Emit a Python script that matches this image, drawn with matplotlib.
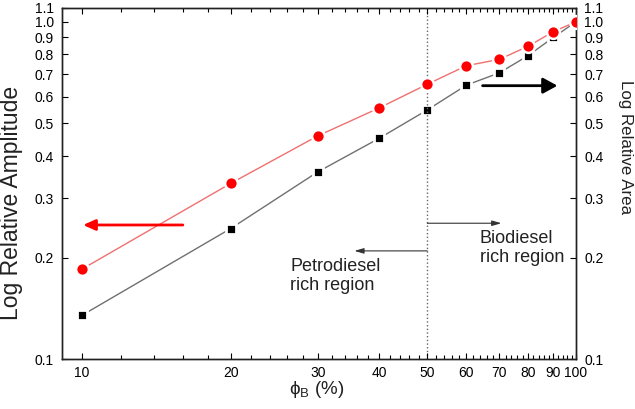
import matplotlib
matplotlib.use("Agg")
import matplotlib.pyplot as plt
from matplotlib.ticker import FixedLocator, NullLocator, NullFormatter

plt.rcParams['font.family'] = ['Liberation Sans', 'DejaVu Sans']

# ---- data ----
phi_b = [10, 20, 30, 40, 50, 60, 70, 80, 90, 100]
rel_amplitude = [0.185, 0.332, 0.459, 0.556, 0.653, 0.741, 0.774, 0.846, 0.935, 1.0]
rel_area = [0.135, 0.244, 0.359, 0.452, 0.548, 0.649, 0.706, 0.794, 0.899, 1.0]

x_major = [10, 20, 30, 40, 50, 60, 70, 80, 90, 100]
x_minor = [v for v in range(12, 100, 2) if v % 10 != 0]
y_ticks = [0.1, 0.2, 0.3, 0.4, 0.5, 0.6, 0.7, 0.8, 0.9, 1.0, 1.1]
y_labels = ['0.1', '0.2', '0.3', '0.4', '0.5', '0.6', '0.7', '0.8', '0.9', '1.0', '1.1']

W, H = 635, 409
fig = plt.figure(figsize=(W / 100, H / 100), dpi=100)
L, R, B, T = 62, 576, 359.3, 7.8
ax = fig.add_axes([L / W, 1 - B / H, (R - L) / W, (B - T) / H])
ax2 = ax.twinx()

for a in (ax, ax2):
    a.set_xscale('log')
    a.set_yscale('log')
    a.set_xlim(9.11, 100)
    a.set_ylim(0.1, 1.1)
    a.yaxis.set_major_locator(FixedLocator(y_ticks))
    a.yaxis.set_minor_locator(NullLocator())
    a.yaxis.set_minor_formatter(NullFormatter())

ax.set_yticklabels(y_labels)
ax2.set_yticklabels(y_labels)

ax.xaxis.set_major_locator(FixedLocator(x_major))
ax.xaxis.set_minor_locator(FixedLocator(x_minor))
ax.xaxis.set_minor_formatter(NullFormatter())
ax.set_xticklabels([str(v) for v in x_major])

ax.tick_params(axis='x', which='major', direction='in', length=4.3, width=0.8,
               top=True, labelsize=10, pad=5.0)
ax.tick_params(axis='x', which='minor', direction='in', length=2.6, width=0.8, top=True)
ax.tick_params(axis='y', which='major', direction='in', length=4.5, width=0.8,
               labelsize=10, pad=6.0, right=False)
ax2.tick_params(axis='y', which='major', direction='in', length=4.5, width=0.8,
                labelsize=10, pad=6.0, left=False)
ax2.tick_params(axis='x', which='both', bottom=False, top=False, labelbottom=False)

for a in (ax, ax2):
    for s in a.spines.values():
        s.set_linewidth(1.0)
        s.set_color('#222222')

# put amplitude axis above the area axis
ax.set_zorder(ax2.get_zorder() + 1)
ax.patch.set_visible(False)

# dotted divider
ax.axvline(50, color='#666666', linestyle=':', linewidth=1.0, zorder=1)

# series
ax2.plot(phi_b, rel_area, color='#707070', linewidth=1.0, zorder=2)
ax2.plot(phi_b, rel_area, linestyle='none', marker='s', markersize=7.9,
         markerfacecolor='black', markeredgecolor='white', markeredgewidth=2.0, zorder=3)
ax.plot(phi_b, rel_amplitude, color='#f07070', linewidth=1.0, zorder=2)
ax.plot(phi_b, rel_amplitude, linestyle='none', marker='o', markersize=9.2,
        markerfacecolor='#ff0000', markeredgecolor='white', markeredgewidth=1.8, zorder=3)

# arrows
ax.annotate('', xy=(10.05, 0.25), xytext=(16.0, 0.25),
            arrowprops=dict(arrowstyle='-|>,head_length=0.72,head_width=0.32',
                            mutation_scale=10, lw=2.0, color='#ff0000',
                            shrinkA=0, shrinkB=0))
ax.annotate('', xy=(91.7, 0.6466), xytext=(64.7, 0.6466),
            arrowprops=dict(arrowstyle='-|>,head_length=0.86,head_width=0.47',
                            mutation_scale=10, lw=2.0, color='black',
                            shrinkA=0, shrinkB=0))
ax.annotate('', xy=(35.6, 0.2095), xytext=(50, 0.2095),
            arrowprops=dict(arrowstyle='-|>,head_length=0.55,head_width=0.16',
                            mutation_scale=10, lw=0.8, color='#333333',
                            shrinkA=0, shrinkB=0))
ax.annotate('', xy=(70.6, 0.253), xytext=(50, 0.253),
            arrowprops=dict(arrowstyle='-|>,head_length=0.55,head_width=0.16',
                            mutation_scale=10, lw=0.8, color='#333333',
                            shrinkA=0, shrinkB=0))

ax.text(0.4436, 0.288, 'Petrodiesel\nrich region', transform=ax.transAxes,
        ha='left', va='top', fontsize=13, color='#222222', linespacing=1.15)
ax.text(0.813, 0.368, 'Biodiesel\nrich region', transform=ax.transAxes,
        ha='left', va='top', fontsize=13, color='#222222', linespacing=1.15)

# axis labels
fig.text(12 / W, 1 - 203 / H, 'Log Relative Amplitude', rotation=90,
         ha='center', va='center', fontsize=16.5, color='#222222')
fig.text(625.5 / W, 1 - 147.5 / H, 'Log Relative Area', rotation=270,
         ha='center', va='center', fontsize=12.2, color='#222222')
fig.text(317 / W, 1 - 394.5 / H, 'ϕ$_\\mathregular{B}$ (%)',
         ha='center', va='baseline', fontsize=13.5, color='#222222')

fig.savefig('out.png', dpi=100)
